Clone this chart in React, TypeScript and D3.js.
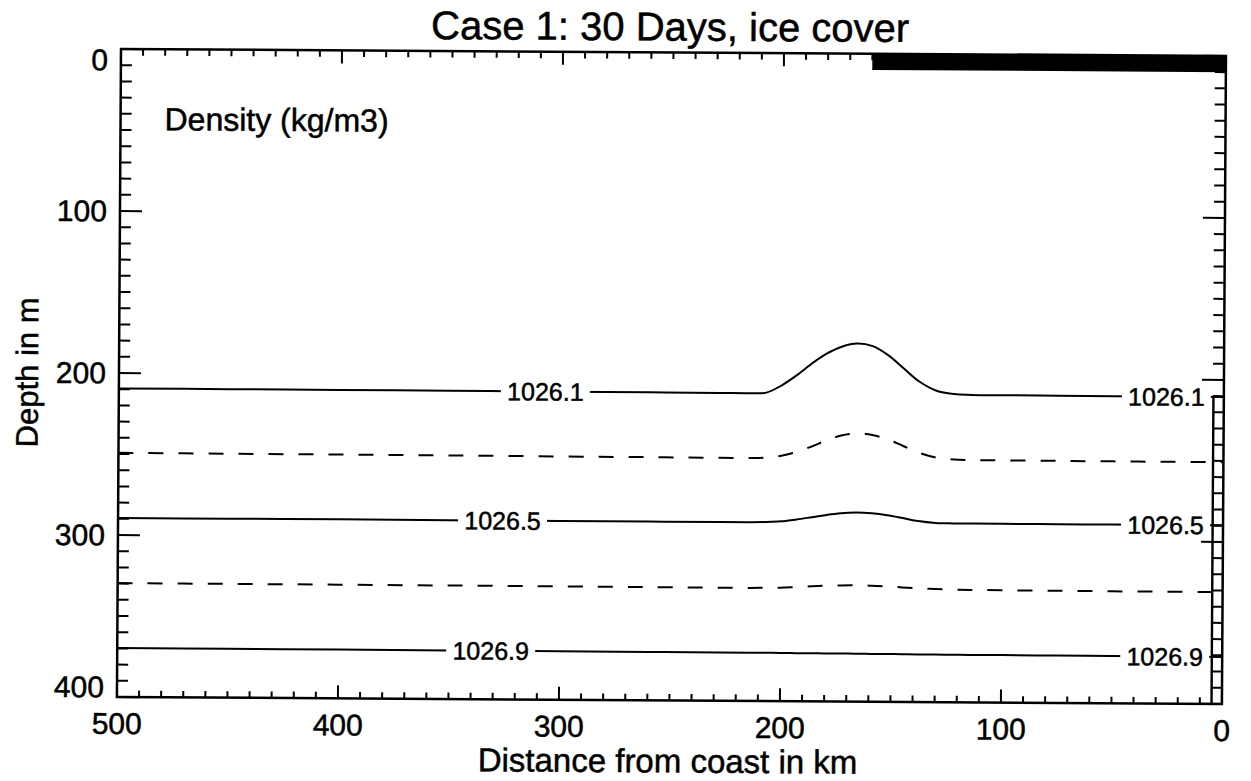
import React from "react";
import * as d3 from "d3";

// ---- data ----
const title = "Case 1: 30 Days, ice cover";
const xLabel = "Distance from coast in km";
const yLabel = "Depth in m";
const panelLabel = "Density (kg/m3)";

const xDomain = [500, 0];
const yDomain = [0, 400];
const xMajorTicks = [500, 400, 300, 200, 100, 0];
const yMajorTicks = [0, 100, 200, 300, 400];

// ice cover: from coast out to this distance, down to this depth
const iceEdgeKm = 160;
const iceDepth = 10;
// coastal wall drawn at right edge
const wallTopDepth = 210;
const wallWidthKm = 4.7;

const profileKm = [500, 450, 400, 350, 300, 260, 228, 214, 207, 200, 193, 186, 180, 173, 166, 159, 152, 145, 138, 130, 122, 114, 100, 75, 50, 25, 0];
const depth10261 = [209.5, 209.55, 209.6, 209.7, 209.8, 209.9, 210, 210, 209.6, 205, 198.5, 191, 185.5, 181, 179, 180.5, 186, 194, 202, 207.8, 209.8, 210.2, 210.3, 210.4, 210.5, 210.55, 210.6];
const depth10263 = [249.3, 249.4, 249.5, 249.6, 249.8, 249.9, 250, 250, 249.7, 248.5, 246, 242.5, 239, 235.8, 234.5, 235.3, 238, 242, 246, 249, 250.2, 250.4, 250.5, 250.6, 250.7, 250.75, 250.8];
const depth10265 = [289.5, 289.5, 289.5, 289.55, 289.6, 289.65, 289.7, 289.7, 289.5, 289, 287.8, 286.3, 285, 283.8, 283.3, 283.7, 284.8, 286.5, 288.3, 289.4, 289.6, 289.65, 289.7, 289.7, 289.7, 289.7, 289.7];
const depth10267 = [329.7, 329.75, 329.8, 329.9, 330, 330.1, 330.2, 330.2, 330.1, 330, 329.5, 329, 328.6, 328.3, 328.2, 328.4, 328.8, 329.3, 329.8, 330.2, 330.5, 330.6, 330.7, 330.8, 330.9, 330.95, 331];
const depth10269 = [369.8, 369.85, 369.9, 369.95, 370, 370.1, 370.2, 370.2, 370.2, 370.2, 370.3, 370.3, 370.4, 370.4, 370.4, 370.5, 370.5, 370.5, 370.6, 370.6, 370.7, 370.7, 370.7, 370.8, 370.9, 370.95, 371];

const contourLevels = [1026.1, 1026.3, 1026.5, 1026.7, 1026.9];
const contourDepths = [depth10261, depth10263, depth10265, depth10267, depth10269];
const contourDashed = [false, true, false, true, false];
const contourLabelKm = [307, null, 326, null, 331];
const rightLabelKm = 26;

// ---- layout ----
const W = 1251;
const H = 781;
const left = 121;
const right = 1226;
const top = 49;
const bottom = 697;
const FONT = "'Liberation Sans', Arial, Helvetica, sans-serif";
const TEXT_STROKE = 0.5;

export default function App() {
  const x = d3.scaleLinear().domain(xDomain).range([left, right]);
  const y = d3.scaleLinear().domain(yDomain).range([top, bottom]);

  const xMinor = d3.range(0, 501, 10);
  const yMinor = d3.range(0, 401, 10);
  const xMajLen = 13, xMinLen = 6.5, yMajLen = 22, yMinLen = 11;

  const line = d3
    .line<[number, number]>()
    .x((d) => x(d[0]))
    .y((d) => y(d[1]))
    .curve(d3.curveCatmullRom.alpha(0.5));

  const interpDepth = (arr: number[], km: number) => {
    for (let i = 0; i < profileKm.length - 1; i++) {
      const a = profileKm[i], b = profileKm[i + 1];
      if (km <= a && km >= b) {
        const t = (a - km) / (a - b);
        return arr[i] + t * (arr[i + 1] - arr[i]);
      }
    }
    return arr[arr.length - 1];
  };

  const labelFont = 25;
  const labelW = 77;

  const textProps = {
    fontFamily: FONT,
    fill: "#000",
    stroke: "#000",
    strokeWidth: TEXT_STROKE,
  };

  const labelNodes: JSX.Element[] = [];
  contourLevels.forEach((lev, i) => {
    const kms: number[] = [];
    if (contourLabelKm[i] !== null) kms.push(contourLabelKm[i] as number);
    if (!contourDashed[i]) kms.push(rightLabelKm);
    kms.forEach((km, j) => {
      const cx = x(km);
      const cy = y(interpDepth(contourDepths[i], km));
      labelNodes.push(
        <g key={`lab-${i}-${j}`}>
          <rect x={cx - labelW / 2 - 6} y={cy - 12} width={labelW + 12} height={24} fill="white" />
          <text
            x={cx}
            y={cy}
            textAnchor="middle"
            dominantBaseline="central"
            fontSize={labelFont}
            {...textProps}
          >
            {lev.toFixed(1)}
          </text>
        </g>
      );
    });
  });

  const clampY = (v: number) => Math.min(Math.max(v, top + 11), bottom - 10);

  return (
    <svg
      width={W}
      height={H}
      style={{ position: "absolute", left: 0, top: 0, background: "white" }}
    >
      <rect x={0} y={0} width={W} height={H} fill="white" />
      <g transform={`rotate(0.36 ${left} ${top})`}>
        {/* title */}
        <text x={670} y={37} textAnchor="middle" fontSize={40} {...textProps}>
          {title}
        </text>

        {/* contours */}
        {contourDepths.map((arr, i) => (
          <path
            key={`c-${i}`}
            d={line(profileKm.map((k, j) => [k, arr[j]] as [number, number])) || ""}
            fill="none"
            stroke="#000"
            strokeWidth={2}
            strokeDasharray={contourDashed[i] ? "15 15" : undefined}
          />
        ))}
        {labelNodes}

        {/* ice cover */}
        <rect
          x={x(iceEdgeKm)}
          y={y(0)}
          width={x(0) - x(iceEdgeKm)}
          height={y(iceDepth) - y(0)}
          fill="#000"
        />

        {/* coastal wall */}
        <line
          x1={x(wallWidthKm)}
          x2={x(wallWidthKm)}
          y1={y(wallTopDepth)}
          y2={y(400)}
          stroke="#000"
          strokeWidth={2.4}
        />

        {/* frame */}
        <rect
          x={left}
          y={top}
          width={right - left}
          height={bottom - top}
          fill="none"
          stroke="#000"
          strokeWidth={2.5}
        />

        {/* x ticks (bottom and top) */}
        {xMinor.map((v) => {
          const major = v % 100 === 0;
          const len = major ? xMajLen : xMinLen;
          return (
            <g key={`xt-${v}`}>
              <line x1={x(v)} x2={x(v)} y1={bottom} y2={bottom - len} stroke="#000" strokeWidth={2} />
              <line x1={x(v)} x2={x(v)} y1={top} y2={top + len} stroke="#000" strokeWidth={2} />
            </g>
          );
        })}
        {/* y ticks (left and right) */}
        {yMinor.map((v) => {
          const major = v % 100 === 0;
          const len = major ? yMajLen : yMinLen;
          return (
            <g key={`yt-${v}`}>
              <line x1={left} x2={left + len} y1={y(v)} y2={y(v)} stroke="#000" strokeWidth={2} />
              <line x1={right} x2={right - len} y1={y(v)} y2={y(v)} stroke="#000" strokeWidth={2} />
            </g>
          );
        })}

        {/* tick labels */}
        {xMajorTicks.map((v) => (
          <text key={`xl-${v}`} x={x(v)} y={734} textAnchor="middle" fontSize={30} {...textProps}>
            {v}
          </text>
        ))}
        {yMajorTicks.map((v) => (
          <text
            key={`yl-${v}`}
            x={108}
            y={clampY(y(v))}
            textAnchor="end"
            dominantBaseline="central"
            fontSize={30}
            {...textProps}
          >
            {v}
          </text>
        ))}

        {/* axis titles */}
        <text x={672} y={769} textAnchor="middle" fontSize={33} {...textProps}>
          {xLabel}
        </text>
        <text
          transform={`translate(40 ${(top + bottom) / 2}) rotate(-90)`}
          textAnchor="middle"
          fontSize={31}
          {...textProps}
        >
          {yLabel}
        </text>

        {/* panel label */}
        <text x={165} y={130} fontSize={32} {...textProps}>
          {panelLabel}
        </text>
      </g>
    </svg>
  );
}
